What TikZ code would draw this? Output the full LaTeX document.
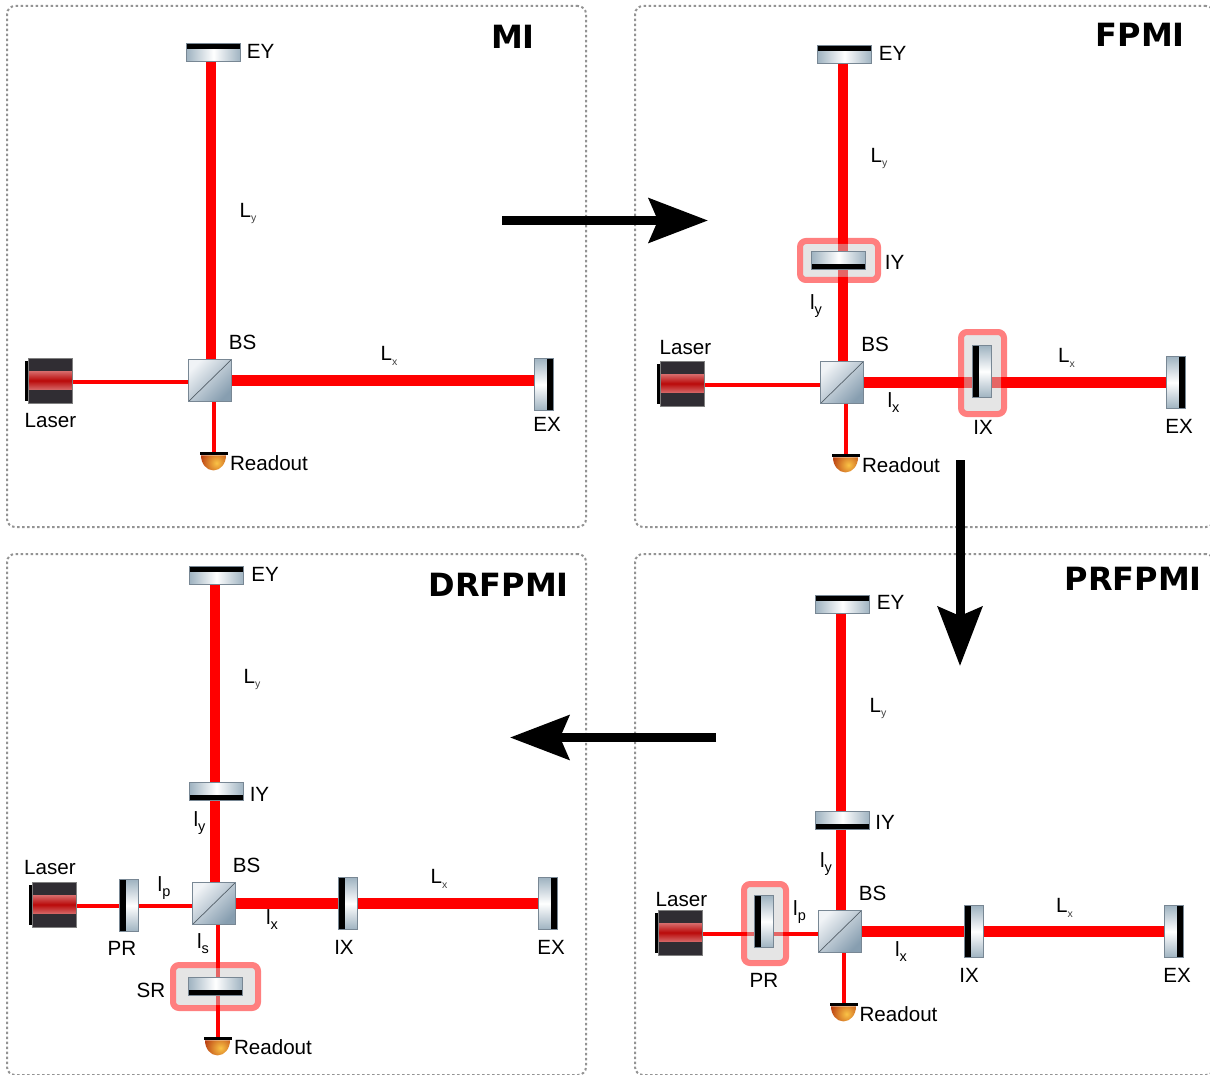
\documentclass[tikz,border=0pt]{standalone}
\usepackage{fontspec}
\setmainfont{Liberation Sans}
\newfontfamily\titlefont{DejaVu Sans}
\definecolor{MirrorBlue}{RGB}{158,178,192}
\definecolor{MirrorEdge}{RGB}{120,135,148}
\definecolor{CubeLight}{RGB}{240,243,246}
\definecolor{CubeDark}{RGB}{135,158,176}
\definecolor{LaserDark}{RGB}{48,45,51}
\definecolor{LaserPink}{RGB}{255,240,240}
\definecolor{LaserCore}{RGB}{185,10,10}
\definecolor{DomeLight}{RGB}{250,195,70}
\definecolor{DomeDark}{RGB}{165,20,0}
\usetikzlibrary{arrows.meta, positioning, shapes.geometric}
\newcommand{\capsub}[1]{\raisebox{-4.5pt}{\fontsize{10.5}{10.5}\selectfont\color{black!75}#1}}
\newcommand{\lowsub}[1]{\raisebox{-5pt}{\fontsize{14.5}{14.5}\selectfont #1}}
\pgfdeclarelayer{beam}
\pgfdeclarelayer{hilite}
\pgfsetlayers{beam,hilite,main}
\tikzset{
	panel/.style={draw=gray!85, line width=2pt, dash pattern=on 2.5pt off 2.5pt, rounded corners=8pt, minimum width=579pt, minimum height=521pt},
	title/.style={anchor=east, inner sep=0pt, font=\titlefont\bfseries\fontsize{32}{36}\selectfont},
	lbl/.style={inner sep=0pt},
	thickbeam/.style={draw=red, line width=10.5pt},
	thinbeam/.style={draw=red, line width=4pt},
	bandnorth/.style={path picture={\fill[black] (path picture bounding box.north west) rectangle ([yshift=-6pt]path picture bounding box.north east);}},
	bandsouth/.style={path picture={\fill[black] (path picture bounding box.south west) rectangle ([yshift=6pt]path picture bounding box.south east);}},
	bandwest/.style={path picture={\fill[black] (path picture bounding box.north west) rectangle ([xshift=6.5pt]path picture bounding box.south west);}},
	bandeast/.style={path picture={\fill[black] (path picture bounding box.north east) rectangle ([xshift=-6.5pt]path picture bounding box.south east);}},
	mirrorh/.style={draw=MirrorEdge, line width=.6pt, inner sep=0pt, minimum width=54.4pt, minimum height=18.4pt, left color=MirrorBlue, right color=MirrorBlue, middle color=white},
	mirrorv/.style={draw=MirrorEdge, line width=.6pt, inner sep=0pt, minimum width=19.4pt, minimum height=52.4pt, top color=MirrorBlue, bottom color=MirrorBlue, middle color=white},
	cube/.style={draw=MirrorEdge, line width=.6pt, inner sep=0pt, minimum width=43.4pt, minimum height=42.4pt, top color=CubeLight, bottom color=CubeDark, shading angle=45,
		path picture={\draw[MirrorEdge!70!black, line width=.7pt] (path picture bounding box.south west) -- (path picture bounding box.north east);}},
	laserbody/.style={draw=gray, line width=.4pt, fill=LaserDark, inner sep=0pt, minimum width=43.6pt, minimum height=44.6pt,
		path picture={\shade[top color=LaserPink, bottom color=LaserPink, middle color=LaserCore] ([yshift=9pt]path picture bounding box.west) rectangle ([yshift=-9pt]path picture bounding box.east);}},
	laserback/.style={fill=black, inner sep=0pt, minimum width=3pt, minimum height=40pt},
	detbar/.style={fill=black, inner sep=0pt, minimum width=28pt, minimum height=3.5pt},
	dome/.style={path picture={\shade[inner color=DomeLight, outer color=DomeDark] ([xshift=3pt]path picture bounding box.center) circle (22pt);}},
	rim/.style={draw=red, opacity=.5, line width=6pt, rounded corners=6pt, inner sep=0pt},
	rimfill/.style={fill=gray!40, opacity=.5, inner sep=0pt},
	bigarrow/.style={draw=black, line width=9pt, -{Stealth[length=59pt, width=44pt, inset=9pt]}}
}

\begin{document}
\begin{tikzpicture}[x=1pt, y=-1pt, font=\fontsize{20.6}{24}\selectfont]
	\useasboundingbox (0,0) rectangle (1210,1075);
	\clip (0,0) rectangle (1210,1075);
	\foreach \p/\px/\py/\ttl/\tx/\ty in {mi/296.5/266.5/MI/535/37, fp/924.5/266.5/FPMI/1185/35, pr/924.5/814.5/PRFPMI/1202/579, dr/296.5/814.5/DRFPMI/569/585}{
		\node[panel] (\p-panel) at (\px,\py) {};
		\node[title] (\p-title) at (\tx,\ty) {\ttl};
	}
	% parts that all four panels share
	\foreach \p/\bx/\by/\eyx/\eyy/\exx/\exy/\lx/\ly/\dx/\dy in {
		mi/210/380.5/213.5/52.5/544/384.5/50/380.5/213.5/453.5,
		fp/842/382.5/844.5/54.5/1176/382.5/682/383.5/845.5/455.5,
		pr/840/931.5/842.5/604.5/1174/931.5/680/932.5/843.5/1004.5,
		dr/214/903.5/216.5/575.5/548/903.5/54/904.5/217.5/1038.5}{
		\node[cube] (\p-bs) at (\bx,\by) {};
		\node[mirrorh, bandnorth] (\p-ey) at (\eyx,\eyy) {};
		\node[mirrorv, bandeast] (\p-ex) at (\exx,\exy) {};
		\node[laserbody] (\p-las) at (\lx,\ly) {};
		\node[laserback, left=0pt of \p-las] (\p-lasback) {};
		\node[detbar] (\p-det) at (\dx,\dy) {};
		\path[dome] ([xshift=-12.5pt]\p-det.south) arc[start angle=180, end angle=360, x radius=12.5pt, y radius=15pt] -- cycle;
		\begin{pgfonlayer}{beam}
			\draw[thickbeam] ([xshift=1pt]\p-bs.north) -- ([xshift=1pt]\p-bs.north |- \p-ey.south);
			\draw[thickbeam] (\p-bs.east) -- (\p-bs.east -| \p-ex.west);
			\draw[thinbeam] ([yshift=-1.5pt]\p-las.east) -- ([yshift=-1.5pt]\p-las.east -| \p-bs.west);
			\draw[thinbeam] (\p-det.north) -- (\p-det.north |- \p-bs.south);
		\end{pgfonlayer}
	}
	% inner mirrors
	\node[mirrorh, bandsouth] (fp-iy) at (838.5,260.5) {};
	\node[mirrorv, bandwest] (fp-ix) at (982,371.5) {};
	\node[mirrorh, bandsouth] (pr-iy) at (842.5,820.5) {};
	\node[mirrorv, bandwest] (pr-ix) at (974,931.5) {};
	\node[mirrorv, bandwest] (pr-pr) at (764,921.5) {};
	\node[mirrorh, bandsouth] (dr-iy) at (216.5,791.5) {};
	\node[mirrorv, bandwest] (dr-ix) at (348,903.5) {};
	\node[mirrorv, bandwest] (dr-pr) at (129,905.5) {};
	\node[mirrorh, bandsouth] (dr-sr) at (215.5,986.5) {};
	% red frames
	\begin{pgfonlayer}{hilite}
		\foreach \h/\hx/\hy/\hw/\hh in {fpiy/839/260.5/84/45, fpix/982.5/373/49/88, prpr/765/923.5/48/85, drsr/215.5/986.5/91/49}{
			\node[rimfill, minimum width={(\hw-12)*1pt}, minimum height={(\hh-12)*1pt}, rounded corners=2pt] (\h-fill) at (\hx,\hy) {};
			\node[rim, minimum width={(\hw-6)*1pt}, minimum height={(\hh-6)*1pt}] (\h-rim) at (\hx,\hy) {};
		}
	\end{pgfonlayer}
	\foreach \x/\y/\t [count=\n] in {
		260.5/51/EY, 248/213.5/{L\capsub{y}}, 242.5/342/BS, 389/356/{L\capsub{x}}, 50.5/421/Laser, 547/424/EX, 269/463/Readout,
		892.5/53/EY, 879/158.5/{L\capsub{y}}, 894.5/262/IY, 816/306/{l\lowsub{y}}, 875/344/BS, 685.5/348/Laser, 1066.5/358/{L\capsub{x}}, 893.5/403/{l\lowsub{x}}, 983/427/IX, 1179/426/EX, 901/465/Readout,
		890.5/602/EY, 878/708.5/{L\capsub{y}}, 885/822/IY, 826/864/{l\lowsub{y}}, 872.5/893/BS, 681.5/900/Laser, 1064.5/908/{L\capsub{x}}, 799.5/912/{l\lowsub{p}}, 901/952/{l\lowsub{x}}, 764/980/PR, 969/975/IX, 1177/975/EX, 898.5/1014/Readout,
		265/574/EY, 252/679.5/{L\capsub{y}}, 259.5/794/IY, 199.5/823/{l\lowsub{y}}, 246.5/865/BS, 50/868/Laser, 439/879/{L\capsub{x}}, 164/888/{l\lowsub{p}}, 272/920/{l\lowsub{x}}, 122/948/PR, 203/944/{l\lowsub{s}}, 344/947/IX, 551/947/EX, 151/990/SR, 273/1047/Readout}{
		\node[lbl] (lab\n) at (\x,\y) {\t};
	}
	\coordinate (arrA-start) at (502,220.5);
	\coordinate (arrA-end) at (708,220.5);
	\coordinate (arrB-start) at (960,460);
	\coordinate (arrB-end) at (960,666);
	\coordinate (arrC-start) at (716,737.5);
	\coordinate (arrC-end) at (510,737.5);
	\draw[bigarrow] (arrA-start) -- (arrA-end);
	\draw[bigarrow] (arrB-start) -- (arrB-end);
	\draw[bigarrow] (arrC-start) -- (arrC-end);
\end{tikzpicture}
\end{document}
